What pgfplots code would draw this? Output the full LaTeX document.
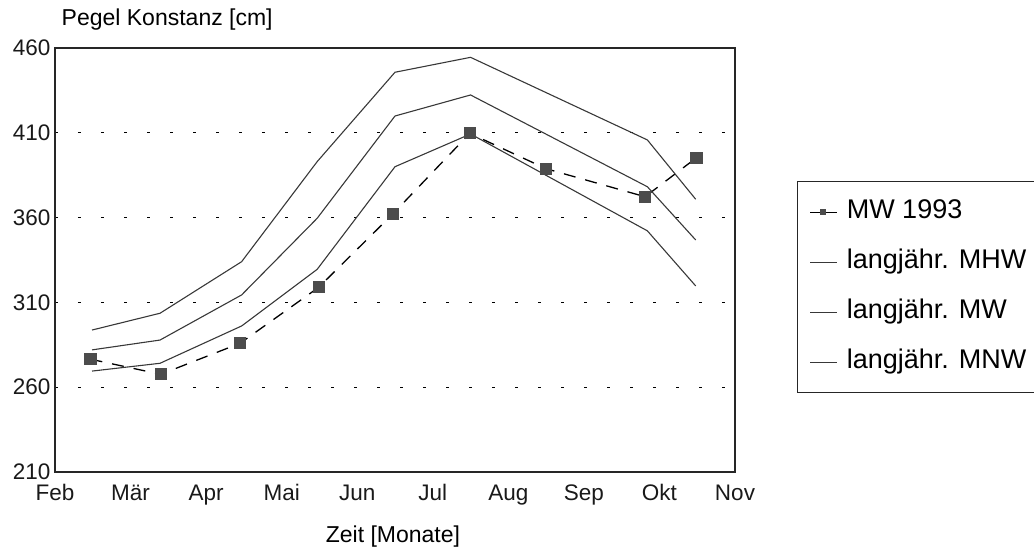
\documentclass[border=0pt]{standalone}
\usepackage{fontspec}
\setmainfont{Liberation Sans}
\usepackage{pgfplots}
\pgfplotsset{compat=1.18}
\definecolor{lin}{gray}{0.22}
\definecolor{mk}{gray}{0.30}
\begin{document}
\begin{tikzpicture}[x=1pt,y=1pt]
\path[use as bounding box] (-55,-76) rectangle (979,472);
\begin{axis}[
  at={(0,0)}, anchor=south west, scale only axis,
  width=680pt, height=424pt,
  xmin=0, xmax=9, ymin=210, ymax=460,
  xtick={0,1,2,3,4,5,6,7,8,9},
  xticklabels={Feb,Mär,Apr,Mai,Jun,Jul,Aug,Sep,Okt,Nov},
  ytick={210,260,310,360,410,460},
  /pgf/number format/assume math mode=true,
  major tick length=0pt,
  ymajorgrids,
  grid style={black, line width=0.9pt, dash pattern=on 3pt off 20pt},
  axis line style={line width=1.3pt, color=black!85},
  tick label style={font=\fontsize{22.5}{26}\selectfont, text=black!90},
  xticklabel style={anchor=base, yshift=-29pt},
  yticklabel style={xshift=-1pt},
  every axis y label/.style={at={(rel axis cs:0.165,1)}, anchor=center, yshift=28pt},
  every axis x label/.style={at={(rel axis cs:0.497,0)}, anchor=center, yshift=-65pt},
  ylabel={\fontsize{23}{27}\selectfont Pegel Konstanz [cm]},
  xlabel={\fontsize{23}{27}\selectfont Zeit [Monate]},
  legend style={at={(1.091,0.686)}, anchor=north west, draw=black!85, line width=1.2pt,
    font=\fontsize{27}{31}\selectfont, row sep=21pt, inner xsep=12pt, inner ysep=16pt,
    nodes={inner sep=2pt, text height=19pt, text depth=6pt},
    cells={anchor=west}},
  legend image code/.code={\draw[mark repeat=2,mark phase=2,#1] plot coordinates {(0pt,0pt) (13pt,0pt) (27pt,0pt)};\path (34pt,0pt);},
  legend image post style={solid, mark size=2.5pt},
]
\addplot[black, line width=1.3pt, dash pattern=on 12pt off 10pt, mark=square*, mark size=5.5pt,
  mark options={solid, fill=mk, draw=mk}] coordinates {
  (0.47,276.5) (1.40,267.6) (2.45,285.9) (3.49,318.9) (4.47,362.1)
  (5.49,409.7) (6.50,388.8) (7.81,372.3) (8.49,395.3)};
\addlegendentry{MW 1993}
\addplot[lin, line width=1.1pt] coordinates {
  (0.49,293.7) (1.39,303.6) (2.47,334.0) (3.47,393.0) (4.50,445.7)
  (5.50,454.5) (7.84,405.8) (8.48,370.8)};
\addlegendentry{langjähr. MHW}
\addplot[lin, line width=1.1pt] coordinates {
  (0.49,282.0) (1.39,287.8) (2.47,314.4) (3.47,359.6) (4.50,419.9)
  (5.50,432.3) (7.84,378.2) (8.48,346.8)};
\addlegendentry{langjähr. MW}
\addplot[lin, line width=1.1pt] coordinates {
  (0.49,269.5) (1.39,274.1) (2.47,296.1) (3.47,329.5) (4.50,390.0)
  (5.50,409.3) (7.84,352.2) (8.48,319.7)};
\addlegendentry{langjähr. MNW}
\end{axis}
\end{tikzpicture}
\end{document}
